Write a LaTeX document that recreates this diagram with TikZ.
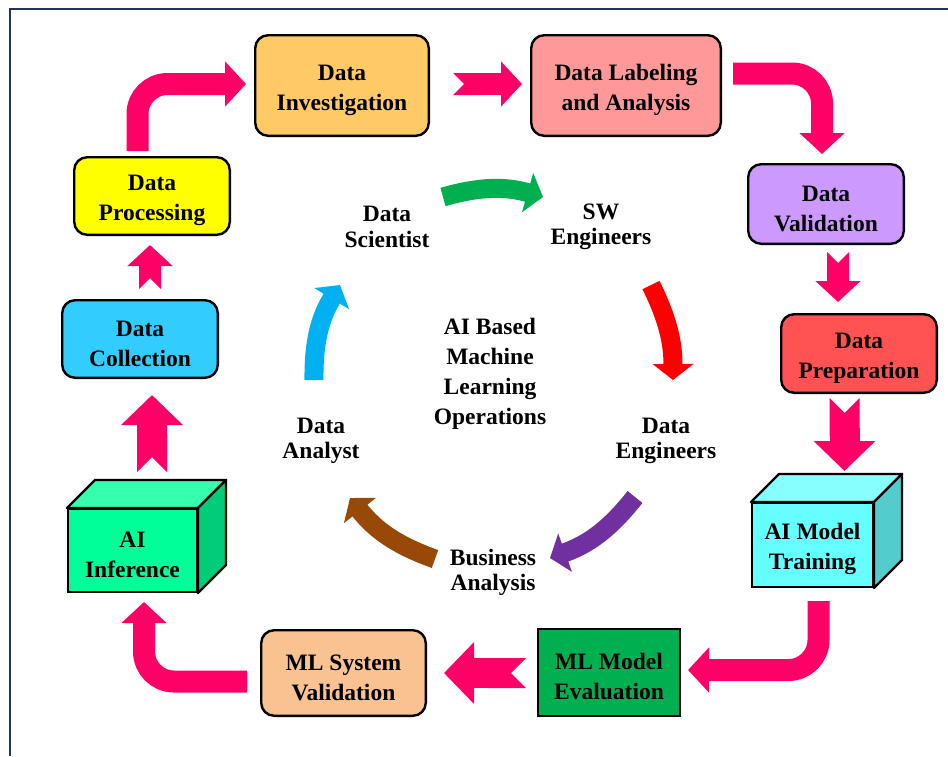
\documentclass[tikz,border=0pt]{standalone}
\usepackage{fontspec}
\setmainfont{Liberation Serif}
\usepackage{xcolor}
\usepackage{tikz}
\usetikzlibrary{arrows.meta}

\definecolor{framenavy}{HTML}{22364F}
\definecolor{flowpink}{HTML}{FF0066}
\definecolor{invorange}{HTML}{FFC966}
\definecolor{labpink}{HTML}{FF9999}
\definecolor{vallilac}{HTML}{CC99FF}
\definecolor{prepred}{HTML}{FF5353}
\definecolor{trainfront}{HTML}{66FFFF}
\definecolor{traintop}{HTML}{88FFFF}
\definecolor{trainside}{HTML}{52CCCC}
\definecolor{evalgreen}{HTML}{00B050}
\definecolor{sysvalpeach}{HTML}{F9C291}
\definecolor{inferfront}{HTML}{00FF99}
\definecolor{infertop}{HTML}{33FFAD}
\definecolor{inferside}{HTML}{00CC7A}
\definecolor{collblue}{HTML}{33CCFF}
\definecolor{procyellow}{HTML}{FFFF00}
\definecolor{sciteal}{HTML}{00B050}
\definecolor{swered}{HTML}{FF0000}
\definecolor{engpurple}{HTML}{7030A0}
\definecolor{busbrown}{HTML}{984807}
\definecolor{anablue}{HTML}{00B0F0}

\newcommand{\boxfont}{\fontsize{23.5pt}{30pt}\selectfont\bfseries}
\newcommand{\rolefont}{\fontsize{23.5pt}{25.5pt}\selectfont\bfseries}
% taller first line, so the text sits a little low in its box
\newcommand{\boxtop}{\rule{0pt}{25pt}}
\newcommand{\roletop}{\rule{0pt}{19pt}}

\tikzset{
  stage/.style={draw, line width=2.4pt, rounded corners=13pt, align=center, inner sep=0pt, font=\boxfont},
  flatstage/.style={stage, rounded corners=0pt},
  role/.style={align=center, inner sep=0pt, font=\rolefont},
  flow/.style={draw=flowpink, line width=22pt, rounded corners=30pt, arrows={-Triangle[length=21pt,width=44pt]}},
  notchflow/.style={draw=flowpink, line width=22pt, arrows={Triangle Cap[reversed]-Triangle[length=21pt,width=44pt]}},
  bignotchflow/.style={draw=flowpink, line width=30pt, arrows={Triangle Cap[reversed]-Triangle[length=30pt,width=60pt]}},
  turn/.style={line width=19pt, arrows={-Triangle[length=16pt,width=40pt]}, bend left=16}
}

\begin{document}
\begin{tikzpicture}[x=1pt, y=-1pt]
  \useasboundingbox (0,0) rectangle (948,756);
  % Frame (top and left edges)
  \draw[framenavy, line width=2pt] (948,9) -- (10,9) -- (10,756);

  % Outer cycle of stages
  \node[stage, fill=invorange, minimum width=173.6pt, minimum height=100.6pt] (inv) at (342,85.5) {\boxtop Data\\Investigation};
  \node[stage, fill=labpink, minimum width=189.6pt, minimum height=100.6pt] (lab) at (626,85.5) {\boxtop Data Labeling\\and Analysis};
  \node[stage, fill=vallilac, minimum width=155.6pt, minimum height=79.6pt] (val) at (826,204) {\boxtop Data\\Validation};
  \node[stage, fill=prepred, minimum width=155.6pt, minimum height=78.6pt] (prep) at (859,353.5) {\boxtop Data\\Preparation};
  \node[flatstage, fill=trainfront, minimum width=120.6pt, minimum height=83.6pt] (train) at (812.5,545) {\boxtop AI Model\\Training};
  \node[flatstage, fill=evalgreen, minimum width=141.6pt, minimum height=86.6pt] (eval) at (609,672.5) {\boxtop ML Model\\Evaluation};
  \node[stage, fill=sysvalpeach, minimum width=164.6pt, minimum height=85.6pt] (sysval) at (343.5,673) {\boxtop ML System\\Validation};
  \node[flatstage, fill=inferfront, minimum width=128.6pt, minimum height=82.6pt] (infer) at (132.5,550.5) {\boxtop AI\\Inference};
  \node[stage, fill=collblue, minimum width=155.6pt, minimum height=77.6pt] (coll) at (140,339) {\boxtop Data\\Collection};
  \node[stage, fill=procyellow, minimum width=155.6pt, minimum height=77.6pt] (proc) at (152,196) {\boxtop Data\\Processing};

  % Box faces for the two cuboids
  \foreach \c/\tc/\sc in {train/traintop/trainside, infer/infertop/inferside} {
    \filldraw[fill=\tc, line width=2.4pt, line join=round] (\c.north west) -- ++(28,-28) -- ([shift={(28,-28)}]\c.north east) -- (\c.north east) -- cycle;
    \filldraw[fill=\sc, line width=2.4pt, line join=round] (\c.north east) -- ++(28,-28) -- ([shift={(28,-28)}]\c.south east) -- (\c.south east) -- cycle;
  }

  % Pink flow arrows
  \draw[flow] ([xshift=-14.5pt,yshift=5pt]proc.north) |- ([xshift=-8pt,yshift=1.5pt]inv.west);
  \draw[notchflow] ([xshift=23pt,yshift=1.5pt]inv.east) -- ([xshift=-8pt,yshift=1.5pt]lab.west);
  \draw[flow] ([xshift=11pt,yshift=12pt]lab.east) -| ([xshift=-4pt,yshift=9pt]val.north);
  \draw[notchflow] ([xshift=12pt,yshift=-7pt]val.south) -- ([xshift=-21pt,yshift=11pt]prep.north);
  \draw[bignotchflow] ([xshift=-14.5pt,yshift=-4pt]prep.south) -- ([xshift=32pt,yshift=31pt]train.north);
  \draw[flow] ([xshift=6pt,yshift=-13pt]train.south) |- ([xshift=7pt,yshift=2.5pt]eval.east);
  \draw[bignotchflow] ([xshift=-11pt,yshift=-0.5pt]eval.west) -- ([xshift=17pt]sysval.east);
  \draw[flow] ([xshift=-13pt,yshift=-8.5pt]sysval.west) -| ([xshift=11.5pt,yshift=-9pt]infer.south);
  \draw[bignotchflow] ([xshift=19.5pt,yshift=36pt]infer.north) -- ([xshift=12pt,yshift=-16pt]coll.south);
  \draw[notchflow] ([xshift=10pt,yshift=10pt]coll.north) -- ([xshift=-2pt,yshift=-9pt]proc.south);

  % Inner cycle of roles
  \node[role] (sci) at (387,225) {\roletop Data\\Scientist};
  \node[role] (swe) at (601,225) {\roletop SW\\Engineers};
  \node[role] (deng) at (666,439) {\roletop Data\\Engineers};
  \node[role] (bus) at (493,571) {\roletop Business\\Analysis};
  \node[role] (ana) at (321,439) {\roletop Data\\Analyst};
  \node[role, font=\boxfont] (core) at (490,369) {\boxtop AI Based\\Machine\\Learning\\Operations};

  \draw[turn, draw=sciteal] ([xshift=56pt,yshift=28pt]sci.center) to ([xshift=-58pt,yshift=28pt]swe.center);
  \draw[turn, draw=swered, bend left=13] ([xshift=50pt,yshift=-60pt]swe.center) to ([xshift=7pt,yshift=59pt]deng.center);
  \draw[turn, draw=engpurple] ([xshift=-31pt,yshift=-58pt]deng.center) to ([xshift=57pt,yshift=13pt]bus.center);
  \draw[turn, draw=busbrown] ([xshift=-58pt,yshift=12pt]bus.center) to ([xshift=29pt,yshift=-59pt]ana.center);
  \draw[turn, draw=anablue] ([xshift=-7pt,yshift=59pt]ana.center) to ([xshift=-47pt,yshift=-60pt]sci.center);
\end{tikzpicture}
\end{document}
